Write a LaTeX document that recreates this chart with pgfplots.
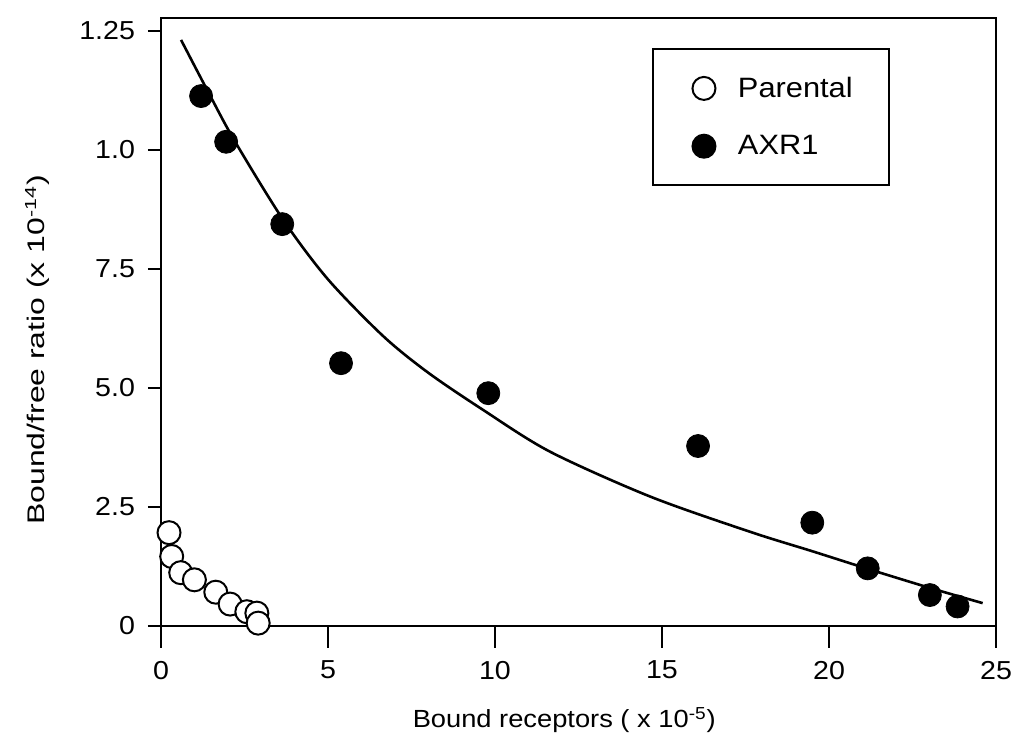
\documentclass[border=0pt]{standalone}
\usepackage{fontspec}
\setmainfont{Liberation Sans}[FakeStretch=1.1]
\newfontfamily\ylabfont{Liberation Sans}[FakeStretch=1.33]
\usepackage{pgfplots}
\pgfplotsset{compat=1.18}
\begin{document}
\begin{tikzpicture}
\useasboundingbox (-80.5pt,-63.5pt) rectangle (428.5pt,313pt);
\pgfplotsset{
  common/.style={
    scale only axis, width=417.5pt, height=304pt,
    at={(0pt,0pt)}, anchor=south west,
    xmin=0, xmax=25, ymin=0, ymax=12.77,
    xtick pos=bottom, ytick pos=left, tick align=outside,
    tick style={line width=1pt, black},
    axis line style={line width=1pt},
    /pgf/number format/assume math mode=true,
    tick label style={font=\fontsize{13}{15}\selectfont},
  }
}
% x ticks (longer)
\begin{axis}[common,
  major tick length=11pt,
  xtick={0,5,10,15,20,25}, ytick=\empty,
  xticklabel style={yshift=-3pt},
  xlabel={Bound receptors ( x 10\textsuperscript{-5})},
  x label style={font=\fontsize{12.4}{14}\selectfont, at={(axis description cs:0.483,-0.155)}, anchor=center},
]
\end{axis}
\begin{axis}[common,
  major tick length=6.5pt,
  xtick=\empty,
  ytick={0,2.5,5,7.5,10,12.5},
  yticklabels={0,2.5,5.0,7.5,1.0,1.25},
  yticklabel style={xshift=-3pt},
  ylabel={\ylabfont Bound/free ratio (x 10\textsuperscript{-14})},
  y label style={font=\fontsize{12}{14}\selectfont, at={(axis description cs:-0.148,0.454)}, anchor=center},
  legend style={at={(rel axis cs:0.588,0.951)}, anchor=north west,
    draw=black, line width=1pt, font=\fontsize{14}{16}\selectfont,
    inner xsep=16pt, inner ysep=12pt, row sep=13.5pt,
    cells={anchor=west}},
  legend cell align=left,
  legend image code/.code={\draw[#1] plot coordinates {(0pt,0pt)}; \path[draw=none] (-9.5pt,0pt) -- (15pt,0pt);},
  clip=false,
]
\addplot[only marks, mark=*, mark size=5.75pt, mark options={fill=white, draw=black, line width=1pt}]
  coordinates {(0.24,1.96) (0.32,1.46) (0.59,1.12) (1.00,0.97) (1.64,0.71) (2.07,0.46) (2.57,0.30) (2.87,0.27) (2.91,0.06)};
\addlegendentry{Parental}
\addplot[only marks, mark=*, mark size=5.75pt, mark options={fill=black, draw=black}]
  coordinates {(1.20,11.13) (1.95,10.17) (3.63,8.44) (5.39,5.52) (9.80,4.89) (16.08,3.78) (19.50,2.17) (21.16,1.21) (23.02,0.65) (23.85,0.41)};
\addlegendentry{AXR1}
\addplot[forget plot, black, line width=1.3pt, smooth, no marks]
  coordinates {(0.60,12.31) (1.47,11.14) (2.22,10.17) (3.66,8.53) (5.00,7.28) (6.65,6.09) (8.00,5.32) (9.64,4.54) (11.65,3.66) (14.64,2.72) (17.63,1.98) (19.50,1.57) (21.16,1.20) (23.02,0.80) (24.60,0.48)};
\end{axis}
\end{tikzpicture}
\end{document}
